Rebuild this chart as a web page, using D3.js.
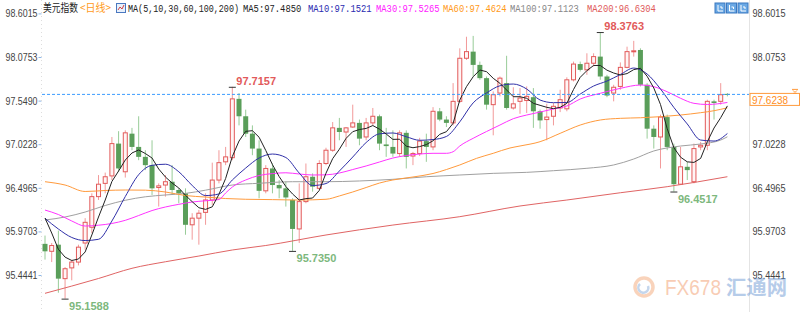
<!DOCTYPE html>
<html>
<head>
<meta charset="utf-8">
<script src="https://cdn.jsdelivr.net/npm/d3@7"></script>
<style>
body { margin: 0; background: #fff; }
svg { display: block; }
</style>
</head>
<body>
<svg id="chart" width="800" height="312"></svg>
<script>
// 日线 K 线数据 (103 根)
var openP = [
  95.82,95.73,95.81,95.40,95.53,95.60,95.83,96.02,96.39,96.55,
  96.64,97.03,96.69,97.15,96.99,96.87,96.77,96.50,96.53,96.57,
  96.47,96.43,96.05,96.13,96.20,96.35,96.59,96.81,96.86,97.57,
  97.36,97.15,96.97,96.46,96.73,96.53,96.49,96.35,96.00,96.33,
  96.63,96.49,96.79,96.95,97.22,97.17,97.23,97.28,97.11,97.28,
  97.36,97.02,96.99,96.91,97.16,96.88,96.91,97.06,96.99,97.42,
  97.32,97.28,97.54,98.06,98.14,97.98,97.82,97.50,97.64,97.76,
  97.46,97.54,97.55,97.59,97.42,97.32,97.36,97.46,97.45,97.80,
  97.99,97.92,98.00,98.08,97.84,97.64,97.72,97.95,98.14,98.16,
  97.74,97.21,97.11,97.35,96.99,96.54,96.75,96.57,96.99,97.01,
  97.54,97.54,97.63];
var highP = [
  95.92,95.83,95.98,95.54,95.63,95.81,96.13,96.43,96.65,96.68,
  97.11,97.18,97.19,97.22,97.36,96.95,97.07,96.55,96.65,96.77,
  96.49,96.49,96.19,96.23,96.43,96.80,96.95,96.99,97.7157,97.64,
  97.44,97.25,97.07,96.77,96.79,96.59,96.57,96.37,96.55,96.79,
  96.67,96.83,96.98,97.29,97.34,97.23,97.50,97.32,97.34,97.46,
  97.38,97.22,97.19,97.19,97.19,96.93,97.10,97.15,97.47,97.46,
  97.36,97.76,98.18,98.32,98.33,98.02,97.84,97.66,97.84,98.09,
  97.71,97.70,97.72,97.70,97.44,97.51,97.52,97.68,97.83,98.02,
  98.02,98.12,98.12,98.3763,97.86,97.74,98.01,98.20,98.27,98.18,
  97.76,97.25,97.38,97.38,97.03,96.99,96.81,97.03,97.05,97.56,
  97.56,97.76,97.64];
var lowP = [
  95.63,95.60,95.23,95.1588,95.38,95.56,95.75,95.95,96.35,96.43,
  96.59,96.69,96.62,96.95,96.83,96.71,96.41,96.27,96.39,96.41,
  96.31,95.93,95.87,95.81,96.05,96.29,96.55,96.77,96.83,97.25,
  97.11,96.89,96.37,96.43,96.43,96.37,96.27,95.735,95.83,96.31,
  96.45,96.47,96.77,96.93,97.07,96.99,97.22,97.01,97.07,97.25,
  96.95,96.87,96.87,96.87,96.73,96.77,96.88,96.81,96.95,97.30,
  97.23,97.25,97.52,98.04,97.84,97.80,97.44,97.13,97.60,97.44,
  97.44,97.39,97.40,97.22,97.21,97.07,97.25,97.41,97.42,97.78,
  97.90,97.86,97.96,97.80,97.59,97.54,97.68,97.94,98.08,97.72,
  97.09,96.97,96.73,96.95,96.4517,96.53,96.59,96.55,96.95,96.95,
  97.32,97.50,97.60];
var closeP = [
  95.73,95.80,95.40,95.52,95.60,95.78,96.08,96.39,96.54,96.63,
  97.03,96.73,97.16,96.99,96.87,96.77,96.49,96.52,96.57,96.47,
  96.43,96.05,96.13,96.19,96.35,96.59,96.80,96.87,97.57,97.36,
  97.15,96.97,96.46,96.73,96.53,96.49,96.38,96.00,96.33,96.63,
  96.51,96.79,96.95,97.22,97.17,97.22,97.28,97.09,97.28,97.36,
  97.03,97.00,96.91,97.16,96.87,96.91,97.06,96.99,97.42,97.32,
  97.28,97.54,98.06,98.14,97.98,97.82,97.50,97.62,97.82,97.46,
  97.51,97.58,97.60,97.42,97.31,97.35,97.48,97.56,97.80,97.99,
  97.92,98.00,98.08,97.84,97.61,97.71,97.95,98.14,98.15,97.74,
  97.21,97.11,97.35,96.99,96.54,96.75,96.71,96.97,97.01,97.54,
  97.52,97.62,97.6238];

// 均线 (MA5 逐日, 其余按 [序号, 数值])
var ma5 = [
  96.132,95.951,95.754,95.660,95.619,95.637,95.722,95.927,96.144,96.349,
  96.573,96.699,96.832,96.917,96.953,96.910,96.856,96.723,96.627,96.554,
  96.494,96.406,96.329,96.256,96.236,96.267,96.418,96.609,96.874,97.061,
  97.178,97.186,97.107,96.947,96.776,96.632,96.512,96.422,96.349,96.366,
  96.373,96.465,96.673,96.849,96.962,97.093,97.174,97.200,97.213,97.248,
  97.204,97.146,97.081,97.083,96.999,96.980,96.994,97.018,97.064,97.142,
  97.174,97.275,97.556,97.717,97.837,97.918,97.898,97.818,97.758,97.677,
  97.596,97.596,97.577,97.516,97.492,97.468,97.452,97.468,97.516,97.683,
  97.830,97.911,97.973,97.973,97.916,97.882,97.858,97.875,97.923,97.939,
  97.843,97.701,97.502,97.210,96.980,96.866,96.810,96.803,96.851,97.053,
  97.218,97.343,97.485];
var ma10 = [[0,96.128],[2,95.999],[4,95.897],[6,95.860],[8,95.875],[10,96.096],
  [12,96.391],[14,96.655],[16,96.768],[18,96.781],[20,96.690],[22,96.525],
  [24,96.403],[26,96.422],[28,96.591],[30,96.735],[32,96.856],[34,96.904],
  [36,96.862],[38,96.675],[40,96.524],[42,96.548],[44,96.699],[46,96.868],
  [48,97.043],[50,97.148],[52,97.158],[54,97.113],[56,97.070],[58,97.079],
  [60,97.116],[62,97.293],[64,97.522],[66,97.641],[68,97.728],[70,97.749],
  [72,97.689],[74,97.556],[76,97.524],[78,97.526],[80,97.628],[82,97.725],
  [84,97.785],[86,97.864],[88,97.942],[90,97.870],[92,97.689],[94,97.466],
  [96,97.267],[98,97.073],[100,97.061],[102,97.1521]];
var ma30 = [[0,96.228],[2,96.174],[4,96.096],[6,96.035],[8,96.045],[10,96.066],
  [12,96.104],[14,96.162],[16,96.222],[18,96.265],[20,96.297],[22,96.325],
  [24,96.340],[26,96.355],[27,96.434],[28,96.506],[30,96.591],[32,96.645],
  [34,96.668],[36,96.678],[38,96.663],[40,96.651],[42,96.653],[44,96.675],
  [46,96.717],[48,96.760],[50,96.808],[52,96.856],[54,96.886],[56,96.904],
  [58,96.913],[60,96.913],[61,96.932],[62,97.001],[64,97.094],[66,97.176],
  [68,97.254],[70,97.331],[72,97.375],[74,97.411],[76,97.448],[78,97.484],
  [80,97.568],[83,97.637],[86,97.697],[89,97.737],[91,97.717],[93,97.656],
  [95,97.577],[97,97.516],[99,97.502],[102,97.5265]];
var ma60 = [[0,96.570],[3,96.530],[6,96.452],[9,96.464],[12,96.470],[15,96.468],
  [18,96.446],[21,96.403],[24,96.385],[27,96.367],[30,96.358],[34,96.354],
  [38,96.349],[42,96.358],[44,96.398],[46,96.446],[48,96.500],[50,96.554],
  [52,96.591],[55,96.627],[58,96.669],[60,96.717],[62,96.772],[64.5,96.852],
  [67,96.913],[69.5,96.977],[71,97.001],[74,97.053],[77,97.154],[80,97.254],
  [83,97.315],[86,97.335],[89,97.342],[92,97.355],[95,97.375],[98,97.403],
  [100,97.427],[102,97.4624]];
var ma100 = [[0,96.108],[3,96.144],[6,96.204],[9,96.283],[12,96.346],[15,96.388],
  [18,96.410],[21,96.429],[24,96.468],[28,96.530],[32,96.551],[37,96.570],
  [42,96.570],[47,96.579],[52,96.599],[57,96.630],[62,96.651],[67,96.671],
  [72,96.683],[76,96.703],[81,96.732],[85,96.772],[88,96.844],[91,96.941],
  [95,97.001],[98,97.025],[101,97.073],[102,97.1123]];
var ma200 = [[0,95.223],[8,95.402],[13,95.525],[18,95.604],[23,95.673],[28,95.746],
  [33,95.800],[42,95.927],[52,96.047],[62,96.148],[71,96.277],[78,96.349],
  [86,96.437],[93,96.510],[102,96.6304]];

var yTicks = [98.6015, 98.0753, 97.5490, 97.0228, 96.4965, 95.9703, 95.4441];
var maNames = ['MA5', 'MA10', 'MA30', 'MA60', 'MA100', 'MA200'];
var maLast = [97.4850, 97.1521, 97.5265, 97.4624, 97.1123, 96.6304];
var extremes = [3, 28, 37, 83, 94];   // 标注的高低点
var days = d3.range(openP.length);

var svg = d3.select('#chart');
var x = d3.scaleLinear().domain([0, days.length - 1]).range([45, 727.4]);
var y = d3.scaleLinear().domain([95.4441, 98.6015]).range([275, 13.4]);
var fmt = d3.format('.4f');

// 坐标轴
var left = svg.append('g').attr('transform', 'translate(41.5,0)')
  .call(d3.axisLeft(y).tickValues(yTicks).tickFormat(fmt).tickSize(3).tickPadding(1));
left.select('.domain').remove();
left.selectAll('.tick line').attr('stroke', '#8fb8e8');
left.selectAll('text').attr('font-family', 'Liberation Sans, Arial, sans-serif')
  .attr('font-size', 11).attr('fill', '#444')
  .attr('textLength', 32).attr('lengthAdjust', 'spacingAndGlyphs');
svg.append('line').attr('x1', 41.5).attr('x2', 41.5).attr('y1', 0).attr('y2', 312)
  .attr('stroke', '#ddd').attr('stroke-dasharray', '1,3');

var right = svg.append('g').attr('transform', 'translate(749.5,0)')
  .call(d3.axisRight(y).tickValues(yTicks).tickFormat(fmt).tickSize(0).tickPadding(3));
right.select('.domain').remove();
right.selectAll('text').attr('font-family', 'Liberation Sans, Arial, sans-serif')
  .attr('font-size', 11).attr('fill', '#444')
  .attr('textLength', 33).attr('lengthAdjust', 'spacingAndGlyphs');
svg.append('line').attr('x1', 749.5).attr('x2', 749.5).attr('y1', 0).attr('y2', 312)
  .attr('stroke', '#e4e4e4');

// 水印
var wm = svg.append('g').attr('opacity', 0.45);
wm.append('circle').attr('cx', 644).attr('cy', 287).attr('r', 9)
  .attr('fill', 'none').attr('stroke', '#f2a06a').attr('stroke-width', 3.5);
wm.append('path').attr('d', 'M640,284 a5,5 0 1,0 8,2').attr('fill', 'none')
  .attr('stroke', '#7ea6d8').attr('stroke-width', 2.5);
wm.append('text').attr('x', 665).attr('y', 295).attr('font-size', 22)
  .attr('font-family', 'Liberation Sans, Arial, sans-serif')
  .attr('textLength', 56).attr('lengthAdjust', 'spacingAndGlyphs')
  .attr('fill', '#f0905a').text('FX678');
wm.append('text').attr('x', 726).attr('y', 295).attr('font-size', 20)
  .attr('font-family', 'Noto Sans CJK SC, sans-serif').attr('font-weight', 'bold')
  .attr('textLength', 61).attr('lengthAdjust', 'spacingAndGlyphs')
  .attr('fill', '#5f8fd0').text('汇通网');

// K 线
var isUp = function(i) { return closeP[i] >= openP[i]; };
var candles = svg.append('g');
candles.selectAll('line').data(days).join('line')
  .attr('x1', function(i) { return x(i); }).attr('x2', function(i) { return x(i); })
  .attr('y1', function(i) { return y(highP[i]); }).attr('y2', function(i) { return y(lowP[i]); })
  .attr('stroke', function(i) { return isUp(i) ? '#f29a9a' : '#98cc98'; });
candles.selectAll('rect').data(days).join('rect')
  .attr('x', function(i) { return isUp(i) ? x(i) - 2 : x(i) - 2.5; })
  .attr('width', function(i) { return isUp(i) ? 4 : 5; })
  .attr('y', function(i) { return y(Math.max(openP[i], closeP[i])); })
  .attr('height', function(i) { return Math.max(1, Math.abs(y(openP[i]) - y(closeP[i]))); })
  .attr('fill', function(i) { return isUp(i) ? '#fff5f5' : '#5a9e5a'; })
  .attr('stroke', function(i) { return isUp(i) ? '#e25a5a' : 'none'; });

// 均线
var maSeries = [
  { data: ma200, color: '#e06464' },
  { data: ma100, color: '#a0a0a0' },
  { data: ma60, color: '#ff9a3c' },
  { data: ma30, color: '#ff33ff' },
  { data: ma10, color: '#3030a8' },
  { data: ma5.map(function(v, i) { return [i, v]; }), color: '#222', linear: true }
];
maSeries.forEach(function(s) {
  var line = d3.line().x(function(d) { return x(d[0]); }).y(function(d) { return y(d[1]); })
    .curve(s.linear ? d3.curveLinear : d3.curveMonotoneX);
  svg.append('path').datum(s.data).attr('d', line)
    .attr('fill', 'none').attr('stroke', s.color).attr('stroke-width', 1);
});

// 现价线
var last = closeP[closeP.length - 1];
svg.append('line').attr('x1', 42).attr('x2', 749).attr('y1', y(last)).attr('y2', y(last))
  .attr('stroke', '#3d9cff').attr('stroke-dasharray', '3,2');
svg.append('rect').attr('x', 750).attr('y', y(last) - 1).attr('width', 49.5).attr('height', 12)
  .attr('fill', '#fff').attr('stroke', '#ff9a3c');
svg.append('text').attr('x', 752).attr('y', y(last) + 9.5).attr('font-size', 11)
  .attr('font-family', 'Liberation Sans, Arial, sans-serif').attr('fill', '#ff8c1a')
  .attr('textLength', 36).attr('lengthAdjust', 'spacingAndGlyphs').text(fmt(last));
svg.append('path').attr('d', 'M792,' + (y(last) - 5) + 'h6M793,' + (y(last) - 4) + 'l2,2l2,-2M793,' + (y(last) - 1) + 'h4')
  .attr('stroke', '#ff9a3c').attr('fill', 'none');

// 高低点标注
extremes.forEach(function(i) {
  var isHigh = i === 28 || i === 83;
  var v = isHigh ? highP[i] : lowP[i];
  svg.append('line').attr('x1', x(i) - 3.5).attr('x2', x(i) + 3.5)
    .attr('y1', y(v) + 0.5).attr('y2', y(v) + 0.5).attr('stroke', '#333');
  svg.append('text').attr('x', x(i) + 4).attr('y', isHigh ? y(v) - 2 : y(v) + 11)
    .attr('font-size', 11).attr('font-weight', 'bold')
    .attr('font-family', 'Liberation Sans, Arial, sans-serif')
    .attr('fill', isHigh ? '#e25a5a' : '#7db87d').text(fmt(v));
});

// 顶部图例
var head = svg.append('g').attr('font-size', 11);
head.append('text').attr('x', 43).attr('y', 12).attr('font-family', 'Noto Sans CJK SC, sans-serif')
  .attr('textLength', 35).attr('lengthAdjust', 'spacingAndGlyphs').attr('fill', '#222').text('美元指数');
head.append('text').attr('x', 80).attr('y', 12).attr('font-family', 'Noto Sans CJK SC, sans-serif')
  .attr('textLength', 31).attr('lengthAdjust', 'spacingAndGlyphs').attr('fill', '#ff9a1a').text('<日线>');
head.append('rect').attr('x', 116.5).attr('y', 3.5).attr('width', 9).attr('height', 9)
  .attr('fill', '#e8f0fb').attr('stroke', '#4a78c0');
head.append('path').attr('d', 'M118,10 l2,-3 l2,2 l2,-4').attr('fill', 'none').attr('stroke', '#d04040');
var legendItems = [{ t: 'MA(5,10,30,60,100,200)', x: 128, w: 111, c: '#222' }];
var legendX = [243, 308, 376, 443, 510, 587];
var legendColors = ['#222', '#2a2ab0', '#ff22ff', '#ff9a1a', '#888', '#e05a5a'];
maNames.forEach(function(n, k) {
  var t = n + ':' + fmt(maLast[k]);
  legendItems.push({ t: t, x: legendX[k], w: t.length * 5.3, c: legendColors[k] });
});
legendItems.forEach(function(d) {
  head.append('text').attr('x', d.x).attr('y', 12).attr('font-family', 'Liberation Mono, monospace')
    .attr('textLength', d.w).attr('lengthAdjust', 'spacingAndGlyphs').attr('fill', d.c).text(d.t);
});

// 右上角按钮
[715, 726.5, 738].forEach(function(bx) {
  svg.append('rect').attr('x', bx).attr('y', 3).attr('width', 10).attr('height', 10)
    .attr('fill', '#6aa8e4').attr('stroke', '#3b78c0');
  svg.append('path').attr('d', 'M' + (bx + 3) + ',5v6h5M' + (bx + 5) + ',7h2v2')
    .attr('stroke', '#fff').attr('fill', 'none');
});
</script>
</body>
</html>
